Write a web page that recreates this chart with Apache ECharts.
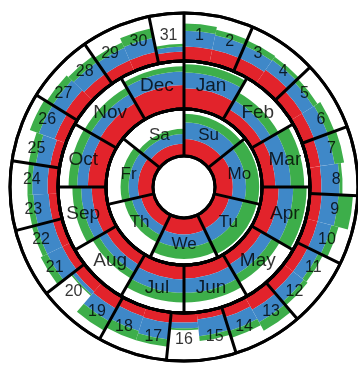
<!DOCTYPE html>
<html>
<head>
<meta charset="utf-8">
<script src="https://cdn.jsdelivr.net/npm/echarts@6/dist/echarts.min.js"></script>
<style>
  html, body { margin: 0; padding: 0; background: #fff; }
  #chart { width: 358px; height: 365px; }
</style>
</head>
<body>
<div id="chart"></div>
<script>
var myChart = echarts.init(document.getElementById('chart'));

// categories of the three rings (inner -> outer)
var weekdays = ['Su', 'Mo', 'Tu', 'We', 'Th', 'Fr', 'Sa'];
var months = ['Jan', 'Feb', 'Mar', 'Apr', 'May', 'Jun', 'Jul', 'Aug', 'Sep', 'Oct', 'Nov', 'Dec'];
var days = ['1', '2', '3', '4', '5', '6', '7', '8', '9', '10', '11', '12', '13', '14', '15', '16',
  '17', '18', '19', '20', '21', '22', '23', '24', '25', '26', '27', '28', '29', '30', '31'];

// stacked shares per cell (red from the inside, then blue, then green; rest stays white)
var weekRed   = [0.36, 0.38, 0.33, 0.35, 0.28, 0.32, 0.26];
var weekBlue  = [0.36, 0.28, 0.30, 0.27, 0.20, 0.20, 0.21];
var weekGreen = [0.18, 0.28, 0.30, 0.25, 0.17, 0.17, 0.11];

var monthRed   = [0.43, 0.25, 0.28, 0.35, 0.25, 0.28, 0.30, 0.25, 0.30, 0.38, 0.40, 0.50];
var monthBlue  = [0.33, 0.22, 0.32, 0.30, 0.25, 0.30, 0.28, 0.18, 0.22, 0.22, 0.22, 0.28];
var monthGreen = [0.17, 0.18, 0.28, 0.28, 0.18, 0.20, 0.20, 0.15, 0.18, 0.18, 0.15, 0.11];

var dayRed   = [0.30, 0.30, 0.30, 0.35, 0.28, 0.27, 0.25, 0.24, 0.25, 0.25, 0.25, 0.25, 0.30, 0.22, 0.15, 0.20,
  0.22, 0.20, 0.28, 0.25, 0.20, 0.20, 0.20, 0.22, 0.20, 0.25, 0.30, 0.25, 0.25, 0.25, 0.20];
var dayBlue  = [0.33, 0.30, 0.28, 0.25, 0.27, 0.30, 0.30, 0.38, 0.35, 0.30, 0.25, 0.28, 0.30, 0.30, 0.35, 0.12,
  0.35, 0.32, 0.30, 0.08, 0.35, 0.35, 0.32, 0.32, 0.30, 0.35, 0.30, 0.30, 0.28, 0.30, 0.10];
var dayGreen = [0.15, 0.12, 0.12, 0.08, 0.10, 0.15, 0.20, 0.06, 0.30, 0.15, 0.10, 0.10, 0.20, 0.15, 0.10, 0.04,
  0.15, 0.20, 0.22, 0.03, 0.15, 0.10, 0.12, 0.10, 0.15, 0.20, 0.15, 0.15, 0.12, 0.20, 0.06];

var RED = '#e2232b', BLUE = '#3f88c8', GREEN = '#3dae4a';
var center = [184, 187];
var rings = [
  { cats: weekdays, r: [31, 78], vals: [weekRed, weekBlue, weekGreen], size: 17 },
  { cats: months, r: [78, 126], vals: [monthRed, monthBlue, monthGreen], size: 19 },
  { cats: days, r: [126, 174], vals: [dayRed, dayBlue, dayGreen], size: 16 }
];

var polar = [], angleAxis = [], radiusAxis = [], series = [];
rings.forEach(function (ring, i) {
  polar.push({ center: center, radius: ring.r });
  angleAxis.push({
    polarIndex: i,
    type: 'category',
    data: ring.cats,
    startAngle: 90,
    clockwise: true,
    z: 5,
    axisLine: { show: true, lineStyle: { color: '#000', width: 3 } },
    axisTick: { show: false },
    axisLabel: { show: false },
    splitLine: { show: true, lineStyle: { color: '#000', width: 3 } }
  });
  radiusAxis.push({
    polarIndex: i,
    type: 'value',
    min: 0,
    max: 1,
    interval: 1,
    z: 5,
    axisLine: { show: false },
    axisTick: { show: false },
    axisLabel: { show: false },
    splitLine: { show: true, lineStyle: { color: '#000', width: 3 } }
  });
  [RED, BLUE, GREEN].forEach(function (col, k) {
    series.push({
      type: 'bar',
      coordinateSystem: 'polar',
      polarIndex: i,
      stack: 'ring' + i,
      barCategoryGap: '0%',
      itemStyle: { color: col },
      silent: true,
      data: ring.vals[k]
    });
  });
  // labels sit in the middle of each cell
  series.push({
    type: 'scatter',
    coordinateSystem: 'polar',
    polarIndex: i,
    z: 10,
    symbolSize: 1,
    itemStyle: { color: 'transparent' },
    label: {
      show: true,
      position: 'inside',
      formatter: '{b}',
      color: '#000',
      fontSize: ring.size,
      fontFamily: 'Liberation Sans, Arial, sans-serif'
    },
    data: ring.cats.map(function (c) { return { name: c, value: [0.55, c] }; })
  });
});

var option = {
  backgroundColor: '#fff',
  animation: false,
  polar: polar,
  angleAxis: angleAxis,
  radiusAxis: radiusAxis,
  series: series
};
myChart.setOption(option);
</script>
</body>
</html>
